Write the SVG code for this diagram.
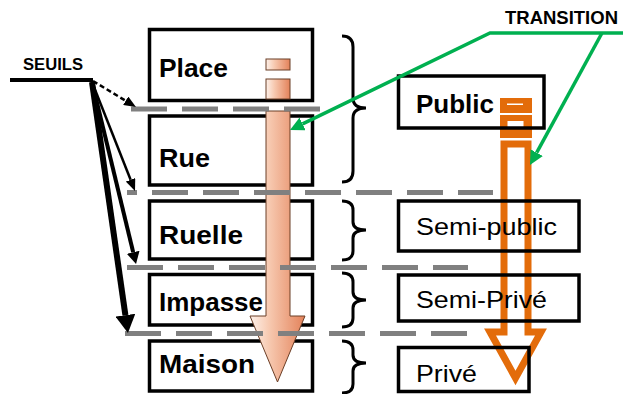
<svg xmlns="http://www.w3.org/2000/svg" width="623" height="394" viewBox="0 0 623 394">
<style>
.box{fill:none;stroke:#000;stroke-width:3.5}
.lbl{font-family:"Liberation Sans",Arial,sans-serif;font-weight:bold;font-size:25px;fill:#000}
.rlbl{font-family:"Liberation Sans",Arial,sans-serif;font-size:24px;fill:#000}
.dash{stroke:#808080;stroke-width:5;stroke-dasharray:36 15;fill:none}
.brace{fill:none;stroke:#000;stroke-width:3}
.green{stroke:#00b050;stroke-width:3.5;fill:none}
.seuil{stroke:#000;fill:none}
.lt{fill:url(#peach);stroke:#6b3e26;stroke-width:1}
</style>
<defs>
<linearGradient id="peach" x1="0" y1="0" x2="1" y2="0">
<stop offset="0" stop-color="#fdf1ea"/>
<stop offset="0.35" stop-color="#f7c9b0"/>
<stop offset="1" stop-color="#e3825a"/>
</linearGradient>
<marker id="hBig" markerUnits="userSpaceOnUse" viewBox="0 0 18 20" refX="0" refY="10" markerWidth="18" markerHeight="20" orient="auto"><path d="M0,0 L18,10 L0,20 Z" fill="#000"/></marker>
<marker id="hMed" markerUnits="userSpaceOnUse" viewBox="0 0 12 13" refX="0" refY="6.5" markerWidth="12" markerHeight="13" orient="auto"><path d="M0,0 L12,6.5 L0,13 Z" fill="#000"/></marker>
<marker id="hSm" markerUnits="userSpaceOnUse" viewBox="0 0 12 10" refX="0" refY="5" markerWidth="12" markerHeight="10" orient="auto"><path d="M0,0 L12,5 L0,10 Z" fill="#000"/></marker>
<marker id="hGreen" markerUnits="userSpaceOnUse" viewBox="0 0 14 14" refX="0" refY="7" markerWidth="14" markerHeight="14" orient="auto"><path d="M0,0 L14,7 L0,14 Z" fill="#00b050"/></marker>
</defs>
<rect width="623" height="394" fill="#fff"/>

<!-- left nodes -->
<g id="place"><rect class="box" x="149.5" y="29.5" width="163" height="71"/><text class="lbl" x="159" y="77" textLength="69" lengthAdjust="spacingAndGlyphs">Place</text></g>
<g id="rue"><rect class="box" x="149.5" y="116" width="163" height="69"/><text class="lbl" x="159" y="167" textLength="51" lengthAdjust="spacingAndGlyphs">Rue</text></g>
<g id="ruelle"><rect class="box" x="149.5" y="201" width="163" height="58"/><text class="lbl" x="159" y="244" textLength="84" lengthAdjust="spacingAndGlyphs">Ruelle</text></g>
<g id="impasse"><rect class="box" x="149.5" y="274.5" width="163" height="50.5"/><text class="lbl" x="159" y="311" textLength="104" lengthAdjust="spacingAndGlyphs">Impasse</text></g>
<g id="maison"><rect class="box" x="149.5" y="341" width="163" height="50"/><text class="lbl" x="159" y="373" textLength="96" lengthAdjust="spacingAndGlyphs">Maison</text></g>

<!-- left gradient arrow -->
<g id="arrow-left">
<rect class="lt" x="266" y="59" width="24" height="11"/>
<rect class="lt" x="266" y="79" width="24" height="20"/>
<path class="lt" d="M266,111 H290 V316 H305 L277.5,382 L250,316 H266 Z"/>
</g>

<!-- right orange arrow -->
<g id="arrow-right">
<rect x="500" y="98" width="32" height="15" fill="#e36c0a"/>
<rect x="507" y="103.5" width="16" height="1.5" fill="#fff"/>
<rect x="500" y="115" width="32" height="23" fill="#e36c0a"/>
<rect x="507.5" y="121" width="16" height="7" fill="#fff"/>
<path d="M504,144 H528 V332 H541 L515.5,378 L490,332 H504 Z" fill="#fff" stroke="#e36c0a" stroke-width="7"/>
</g>

<!-- right nodes -->
<g id="public"><rect class="box" x="398.5" y="76" width="145.5" height="52"/><text class="lbl" style="font-size:26px" x="416" y="113" textLength="78" lengthAdjust="spacingAndGlyphs">Public</text></g>
<g id="semi-public"><rect class="box" x="398.5" y="201" width="180.5" height="50"/><text class="rlbl" x="416" y="235" textLength="141" lengthAdjust="spacingAndGlyphs">Semi-public</text></g>
<g id="semi-prive"><rect class="box" x="398.5" y="275" width="180.5" height="46"/><text class="rlbl" x="416" y="308" textLength="131" lengthAdjust="spacingAndGlyphs">Semi-Privé</text></g>
<g id="prive"><rect class="box" x="398.5" y="347.5" width="130.5" height="44"/><text class="rlbl" x="416" y="382" textLength="61" lengthAdjust="spacingAndGlyphs">Privé</text></g>

<g id="connectors">
<!-- thresholds -->
<line class="dash" x1="131" y1="109" x2="320" y2="109"/>
<line class="dash" x1="127" y1="192.5" x2="493" y2="192.5" stroke-dashoffset="26"/>
<line class="dash" x1="127" y1="267.5" x2="468" y2="267.5"/>
<line class="dash" x1="125" y1="333.5" x2="468" y2="333.5"/>
<!-- braces -->
<path class="brace" d="M342,36 Q353,36 353,47 V98 Q353,108 366,108 Q353,108 353,118 V171 Q353,182 342,182"/>
<path class="brace" d="M342,201 Q353,201 353,210 V222 Q353,230 366,230 Q353,230 353,238 V251 Q353,260 342,260"/>
<path class="brace" d="M342,273 Q353,273 353,282 V292 Q353,300 366,300 Q353,300 353,308 V318 Q353,327 342,327"/>
<path class="brace" d="M342,341 Q353,341 353,350 V355 Q353,363 366,363 Q353,363 353,371 V384 Q353,393 342,393"/>
<!-- SEUILS -->
<line class="seuil" x1="10" y1="80" x2="93" y2="80" stroke-width="4"/>
<line class="seuil" x1="93" y1="81" x2="125.7" y2="100.8" stroke-width="2.5" stroke-dasharray="5 3" marker-end="url(#hSm)"/>
<line class="seuil" x1="92" y1="82" x2="130.6" y2="179.8" stroke-width="2.5" marker-end="url(#hSm)"/>
<line class="seuil" x1="92" y1="82" x2="133.2" y2="252.3" stroke-width="4" marker-end="url(#hMed)"/>
<line class="seuil" x1="92" y1="82" x2="125.4" y2="315.2" stroke-width="6" marker-end="url(#hBig)"/>
<!-- TRANSITION -->
<polyline class="green" points="623,33 490,33 302.6,123.9" marker-end="url(#hGreen)"/>
<line class="green" x1="602" y1="33" x2="536.7" y2="152.7" marker-end="url(#hGreen)"/>
</g>

<text x="23" y="70" style="font-family:'Liberation Sans',Arial,sans-serif;font-weight:bold;font-size:17px" textLength="60" lengthAdjust="spacingAndGlyphs">SEUILS</text>
<text x="505" y="24" style="font-family:'Liberation Sans',Arial,sans-serif;font-weight:bold;font-size:18px" textLength="113" lengthAdjust="spacingAndGlyphs">TRANSITION</text>
</svg>
